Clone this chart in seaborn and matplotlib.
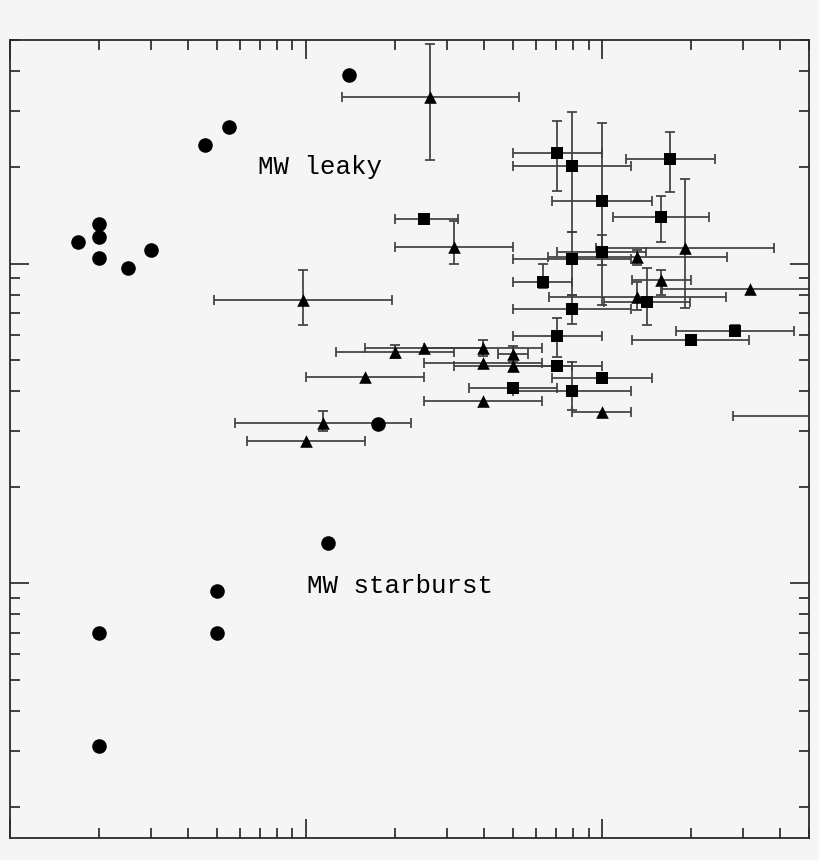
import numpy as np
import pandas as pd
import matplotlib
matplotlib.use("Agg")
import matplotlib.pyplot as plt
import seaborn as sns
from matplotlib.ticker import LogLocator, NullFormatter

# ---------------- data ----------------
circle_x = [14.0, 4.56, 5.5, 2.0, 2.0, 1.7, 2.0, 2.5, 3.0, 17.5, 11.9, 5.0, 5.0, 2.0, 2.0]
circle_y = [38.9, 23.5, 26.7, 13.3, 12.1, 11.7, 10.4, 9.7, 11.0, 3.15, 1.34, 0.95, 0.70, 0.70, 0.31]

tri_x = [26.2, 31.6, 9.8, 20.0, 25.0, 39.6, 39.6, 50.0, 50.0, 15.8, 39.6, 100, 11.4, 10.0,
         131, 131, 158, 191, 316, 554]
tri_y = [33.2, 11.3, 7.7, 5.29, 5.44, 5.44, 4.89, 4.78, 5.21, 4.42, 3.72, 3.43, 3.17, 2.79,
         10.5, 7.86, 8.88, 11.2, 8.32, 3.34]
tri_xlo = [13.2, 20.0, 4.9, 12.6, 15.8, 25.0, 25.0, 31.6, 44.5, 10.0, 25.0, 79.2, 5.76, 6.32,
           65.7, 66.2, 126, 95.4, 159.5, 277]
tri_xhi = [52.5, 50.0, 19.5, 31.6, 39.6, 62.7, 62.7, 79.2, 56.2, 25.0, 62.7, 125.3, 22.6, 15.8,
           264, 262, 200, 381, 627, 1106]
tri_ylo = [21.1, 10.0, 6.42, 5.07, 5.44, 5.14, 4.89, 4.78, 4.92, 4.42, 3.72, 3.43, 2.99, 2.79,
           9.9, 7.16, 7.97, 7.26, 8.32, 3.34]
tri_yhi = [48.6, 13.6, 9.55, 5.56, 5.44, 5.77, 4.89, 4.78, 5.52, 4.42, 3.72, 3.43, 3.46, 2.79,
           11.0, 8.76, 9.55, 18.4, 8.32, 3.34]

sq_x = [25.0, 70.5, 79.2, 100, 170, 158, 100, 79.2, 63.2, 79.2, 142, 70.5, 70.5, 281.5,
        199.8, 100, 50, 79.2]
sq_y = [13.8, 22.2, 20.2, 15.7, 21.2, 14.0, 10.9, 10.3, 8.76, 7.21, 7.58, 5.93, 4.78, 6.15,
        5.77, 4.39, 4.08, 3.99]
sq_xlo = [20.0, 50, 50, 67.8, 120.5, 109, 70.5, 50, 50, 50, 101.6, 50, 50, 177.8,
          126.3, 67.8, 35.5, 50]
sq_xhi = [32.6, 100, 125.3, 147.5, 241, 230, 140.8, 125.3, 79.2, 125.3, 198.3, 100, 100, 445,
          313.8, 147.5, 70.5, 125.3]
sq_ylo = [13.8, 16.9, 12.55, 7.42, 16.7, 11.7, 9.9, 7.97, 8.38, 6.47, 6.42, 5.10, 4.78, 5.93,
          5.77, 4.39, 4.08, 3.48]
sq_yhi = [13.8, 27.9, 29.8, 27.5, 25.8, 16.3, 12.3, 12.55, 10.0, 7.97, 9.68, 6.76, 4.78, 6.42,
          5.77, 4.39, 4.08, 4.92]

labels = ["MW leaky", "MW starburst"]
label_x = [6.88, 10.1]
label_y = [19.05, 0.933]

x_limits = (1.0, 500.0)
y_limits = (0.16, 50.0)

# ---------------- style ----------------
BG = "#f5f5f5"
sns.set_style("ticks")
plt.rcParams["font.family"] = ["Liberation Mono", "DejaVu Sans Mono"]

fig = plt.figure(figsize=(8.2, 8.6), dpi=100, facecolor=BG)
ax = fig.add_axes([10 / 820, 22 / 860, 799 / 820, 798 / 860])
ax.set_facecolor(BG)
ax.set_xscale("log")
ax.set_yscale("log")

ebar_kw = dict(fmt="none", ecolor="#404040", elinewidth=1.25, capsize=3.6,
               capthick=1.25, zorder=2)


def draw_errors(x, y, xlo, xhi, ylo, yhi):
    x = np.asarray(x, float); y = np.asarray(y, float)
    xlo = np.asarray(xlo, float); xhi = np.asarray(xhi, float)
    ylo = np.asarray(ylo, float); yhi = np.asarray(yhi, float)
    ax.errorbar(x, y, xerr=[x - xlo, xhi - x], **ebar_kw)
    m = (ylo < y) | (yhi > y)
    ax.errorbar(x[m], y[m], yerr=[y[m] - ylo[m], yhi[m] - y[m]], **ebar_kw)


draw_errors(tri_x, tri_y, tri_xlo, tri_xhi, tri_ylo, tri_yhi)
draw_errors(sq_x, sq_y, sq_xlo, sq_xhi, sq_ylo, sq_yhi)

circles = pd.DataFrame({"x": circle_x, "y": circle_y})
tris = pd.DataFrame({"x": tri_x, "y": tri_y})
squares = pd.DataFrame({"x": sq_x, "y": sq_y})

sns.scatterplot(data=circles, x="x", y="y", marker="o", color="black", s=110,
                linewidth=0, ax=ax, zorder=3, legend=False)
sns.scatterplot(data=tris, x="x", y="y", marker="^", color="black", s=82,
                linewidth=0, ax=ax, zorder=3, legend=False)
sns.scatterplot(data=squares, x="x", y="y", marker="s", color="black", s=66,
                linewidth=0, ax=ax, zorder=3, legend=False)

for t, tx, ty in zip(labels, label_x, label_y):
    ax.text(tx, ty, t, fontsize=18.5, color="black", ha="left", va="baseline")

ax.set_xlim(*x_limits)
ax.set_ylim(*y_limits)
ax.set_xlabel("")
ax.set_ylabel("")

for axis in (ax.xaxis, ax.yaxis):
    axis.set_major_locator(LogLocator(base=10, numticks=20))
    axis.set_minor_locator(LogLocator(base=10, subs=np.arange(2, 10), numticks=40))
    axis.set_major_formatter(NullFormatter())
    axis.set_minor_formatter(NullFormatter())

ax.tick_params(which="both", direction="in", top=True, right=True,
               bottom=True, left=True, color="#222222", width=1.2)
ax.tick_params(which="major", length=14)
ax.tick_params(which="minor", length=7)

for sp in ax.spines.values():
    sp.set_color("#2a2a2a")
    sp.set_linewidth(1.3)
    sp.set_visible(True)

fig.savefig("out.png", dpi=100, facecolor=BG)
